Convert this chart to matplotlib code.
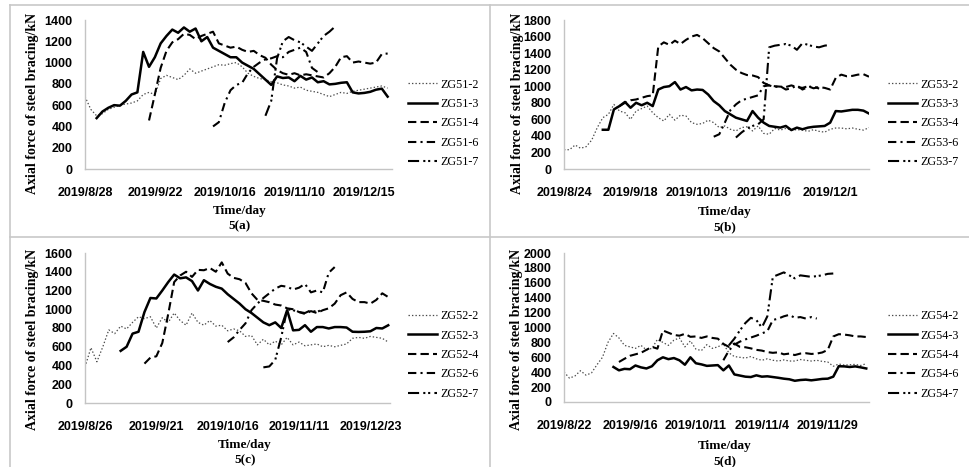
import numpy as np
import matplotlib
matplotlib.use('Agg')
import matplotlib.pyplot as plt
from matplotlib.lines import Line2D

plt.rcParams['lines.scale_dashes'] = False

# ---------------- data (category index, one value every 2 days) ----------------
dates_a = ['2019/8/28', '2019/9/22', '2019/10/16', '2019/11/10', '2019/12/15']
names_a = ['ZG51-2', 'ZG51-3', 'ZG51-4', 'ZG51-6', 'ZG51-7']
starts_a = [0, 4, 22, 44, 62]
zg51_2 = [680, 560, 500, 520, 560, 580, 600, 610, 620, 640, 700, 720, 700, 850, 880, 860, 840, 880,
          940, 900, 920, 940, 960, 980, 975, 990, 1000, 960, 900, 870, 850, 840, 820, 810, 790, 780,
          760, 770, 740, 730, 720, 700, 680, 700, 720, 710, 730, 740, 750, 760, 770, 780, 760]
zg51_3 = [478, 540, 575, 600, 595, 640, 700, 720, 1100, 960, 1050, 1180, 1250, 1310, 1280, 1330, 1290,
          1320, 1200, 1240, 1140, 1110, 1080, 1050, 1050, 1000, 970, 940, 890, 840, 790, 870, 855, 860,
          825, 875, 840, 860, 815, 825, 795, 800, 810, 815, 720, 710, 715, 725, 745, 755, 680]
zg51_4 = [456, 700, 950, 1110, 1190, 1220, 1270, 1260, 1220, 1250, 1270, 1290, 1180, 1160, 1140, 1150,
          1120, 1100, 1110, 1070, 1045, 980, 930, 900, 885, 900, 880, 890, 880, 870, 860, 900, 960,
          1050, 1060, 1000, 1010, 1000, 990, 1000, 1080, 1085]
zg51_6 = [400, 440, 620, 740, 790, 810, 900, 960, 1000, 1030, 1040, 1060, 1050, 1100, 1120, 1140,
          1100, 950, 910]
zg51_7 = [500, 640, 1040, 1200, 1240, 1210, 1190, 1150, 1110, 1180, 1250, 1290, 1340]

dates_b = ['2019/8/24', '2019/9/18', '2019/10/13', '2019/11/6', '2019/12/1']
names_b = ['ZG53-2', 'ZG53-3', 'ZG53-4', 'ZG53-6', 'ZG53-7']
starts_b = [0, 14, 20, 54, 62]
zg53_2 = [233, 233, 290, 250, 270, 350, 500, 620, 660, 780, 700, 680, 600, 700, 730, 760, 680, 620,
          580, 660, 590, 650, 640, 560, 540, 550, 590, 560, 500, 520, 480, 460, 500, 510, 460, 520,
          430, 420, 490, 470, 490, 470, 475, 470, 455, 475, 455, 445, 480, 495, 495, 485, 495, 480,
          470, 500]
zg53_3 = [474, 474, 720, 760, 810, 740, 800, 770, 800, 760, 960, 990, 1000, 1050, 960, 990, 950, 960,
          955, 900, 820, 770, 700, 660, 620, 600, 580, 700, 620, 560, 520, 510, 500, 520, 470, 500,
          480, 500, 510, 515, 520, 560, 700, 695, 705, 715, 715, 705, 670]
zg53_4 = [760, 800, 830, 840, 860, 880, 890, 1480, 1530, 1500, 1550, 1510, 1560, 1600, 1620, 1580,
          1520, 1460, 1420, 1340, 1260, 1200, 1160, 1135, 1130, 1110, 1040, 1010, 1000, 995, 990,
          1010, 990, 980, 1000, 975, 990, 980, 960, 1100, 1140, 1120, 1125, 1140, 1145, 1115]
zg53_6 = [390, 420, 560, 710, 780, 830, 850, 870, 890, 1000, 1010, 990, 1000, 960, 975, 1010, 960,
          990, 1000, 970]
zg53_7 = [380, 440, 490, 520, 540, 600, 1470, 1490, 1500, 1510, 1490, 1440, 1520, 1500, 1480, 1470,
          1490, 1500]

dates_c = ['2019/8/26', '2019/9/21', '2019/10/16', '2019/11/11', '2019/12/23']
names_c = ['ZG52-2', 'ZG52-3', 'ZG52-4', 'ZG52-6', 'ZG52-7']
starts_c = [0, 12, 20, 48, 60]
zg52_2 = [384, 590, 440, 600, 780, 740, 820, 790, 860, 920, 900, 920, 800, 910, 860, 960, 880, 830,
          960, 860, 830, 880, 820, 830, 770, 790, 770, 710, 720, 620, 680, 620, 660, 620, 700, 620,
          650, 610, 620, 630, 600, 615, 600, 615, 630, 690, 700, 690, 710, 700, 690, 650]
zg52_3 = [556, 600, 740, 760, 970, 1120, 1115, 1200, 1290, 1370, 1330, 1340, 1300, 1200, 1310, 1270,
          1240, 1220, 1160, 1110, 1060, 1000, 960, 910, 860, 830, 860, 800, 990, 775, 780, 830, 760,
          810, 810, 795, 810, 810, 805, 760, 758, 760, 765, 800, 795, 829]
zg52_4 = [420, 484, 498, 640, 950, 1290, 1360, 1400, 1345, 1420, 1416, 1440, 1400, 1500, 1380, 1335,
          1320, 1280, 1170, 1100, 1090, 1075, 1050, 1040, 1010, 1000, 970, 950, 980, 960, 990, 1010,
          1060, 1150, 1180, 1110, 1076, 1076, 1060, 1100, 1170, 1130]
zg52_6 = [650, 700, 780, 850, 990, 1060, 1120, 1170, 1220, 1250, 1240, 1210, 1230, 1270, 1180, 1200,
          1180, 1390, 1450]
zg52_7 = [380, 390, 460, 700, 1000, 990, 970, 960, 990, 970, 1000]

dates_d = ['2019/8/22', '2019/9/16', '2019/10/11', '2019/11/4', '2019/11/29']
names_d = ['ZG54-2', 'ZG54-3', 'ZG54-4', 'ZG54-6', 'ZG54-7']
starts_d = [0, 18, 20, 58, 60]
zg54_2 = [403, 320, 350, 420, 360, 390, 500, 600, 800, 920, 860, 760, 740, 720, 760, 700, 720, 840,
          800, 760, 830, 860, 740, 820, 710, 690, 770, 720, 740, 780, 660, 610, 600, 590, 610, 580,
          560, 580, 560, 550, 565, 550, 550, 570, 560, 550, 560, 545, 537, 480, 510, 495, 500, 505,
          490, 515]
zg54_3 = [470, 425, 445, 440, 490, 465, 450, 480, 560, 600, 575, 590, 560, 500, 600, 520, 505, 485,
          490, 495, 425, 490, 370, 355, 340, 335, 358, 340, 345, 335, 325, 313, 305, 285, 295, 300,
          291, 300, 310, 313, 340, 480, 478, 470, 478, 465, 450]
zg54_4 = [537, 580, 620, 640, 660, 700, 740, 716, 960, 930, 900, 890, 915, 875, 880, 860, 880, 860,
          850, 780, 740, 785, 740, 735, 720, 700, 690, 670, 660, 667, 640, 650, 630, 650, 655, 645,
          650, 665, 700, 880, 910, 905, 895, 880, 880, 872]
zg54_6 = [560, 690, 770, 810, 840, 865, 890, 920, 950, 1100, 1120, 1150, 1170, 1130, 1140, 1120, 1140,
          1120]
zg54_7 = [760, 850, 960, 1060, 1130, 1100, 1000, 1150, 1680, 1710, 1740, 1700, 1660, 1700, 1690, 1680,
          1690, 1700, 1720, 1725]

# ---------------- layout (pixels of the 970x467 picture) ----------------
W, H = 970, 467
fig = plt.figure(figsize=(W / 100, H / 100), dpi=100)


def box(l, t, r, b):
    return [l / W, 1 - b / H, (r - l) / W, (b - t) / H]


def fp(x, y):
    return x / W, 1 - y / H


styles = [
    dict(color='#4a4a4a', lw=0.9, ls=(0, (1, 1.5))),
    dict(color='black', lw=1.8, ls='-'),
    dict(color='black', lw=1.5, ls=(0, (6, 3))),
    dict(color='black', lw=1.5, ls=(0, (6, 3, 1.5, 3))),
    dict(color='black', lw=1.5, ls=(0, (8, 3, 1.5, 2, 1.5, 3))),
]

panels = [
    dict(rect=box(85, 20, 392, 169), dates=dates_a, names=names_a, starts=starts_a,
         series=[zg51_2, zg51_3, zg51_4, zg51_6, zg51_7], ymax=1400, xend=105.5,
         leg=(408, 123.5), ylab=(33, 103), tlab=(240, 211), sub=(240, 226), tag='5(a)'),
    dict(rect=box(564, 20, 869, 169), dates=dates_b, names=names_b, starts=starts_b,
         series=[zg53_2, zg53_3, zg53_4, zg53_6, zg53_7], ymax=1800, xend=110,
         leg=(888, 123.5), ylab=(518, 103), tlab=(725, 212), sub=(725, 227), tag='5(b)'),
    dict(rect=box(85, 253, 390, 403), dates=dates_c, names=names_c, starts=starts_c,
         series=[zg52_2, zg52_3, zg52_4, zg52_6, zg52_7], ymax=1600, xend=102.6,
         leg=(408, 355), ylab=(33, 339), tlab=(245, 445), sub=(245, 460), tag='5(c)'),
    dict(rect=box(564, 253, 869, 402), dates=dates_d, names=names_d, starts=starts_d,
         series=[zg54_2, zg54_3, zg54_4, zg54_6, zg54_7], ymax=2000, xend=111,
         leg=(888, 355), ylab=(517, 339), tlab=(725, 446), sub=(725, 461), tag='5(d)'),
]

tick_font = dict(family='Liberation Sans', weight='bold', size=9)
serif_bold = dict(family='Liberation Serif', weight='bold')

for p in panels:
    ax = fig.add_axes(p['rect'])
    handles = []
    for start, vals, st in zip(p['starts'], p['series'], styles):
        x = start + 2 * np.arange(len(vals))
        h, = ax.plot(x, vals, color=st['color'], lw=st['lw'], linestyle=st['ls'],
                     solid_joinstyle='round', dash_capstyle='butt')
        handles.append(h)
    ax.set_xlim(0, p['xend'])
    ax.set_ylim(0, p['ymax'])
    ax.set_yticks(np.arange(0, p['ymax'] + 1, 200))
    ax.set_xticks([0, 24, 48, 72, 96])
    ax.set_xticklabels(p['dates'])
    for s in ['top', 'right']:
        ax.spines[s].set_visible(False)
    for s in ['left', 'bottom']:
        ax.spines[s].set_color('#c4c4c4')
        ax.spines[s].set_linewidth(1.0)
    ax.tick_params(axis='both', length=0)
    ax.tick_params(axis='x', pad=13)
    ax.tick_params(axis='y', pad=9)
    for lab in ax.get_xticklabels() + ax.get_yticklabels():
        lab.set_fontfamily(tick_font['family'])
        lab.set_fontweight(tick_font['weight'])
        lab.set_fontsize(tick_font['size'])
    ax.legend(handles, p['names'], loc='center left', bbox_to_anchor=fp(*p['leg']),
              bbox_transform=fig.transFigure, frameon=False,
              prop=dict(family='Liberation Serif', size=8.7),
              handlelength=2.4, handletextpad=0.25, labelspacing=0.62,
              borderpad=0, borderaxespad=0)
    fig.text(*fp(*p['ylab']), 'Axial force of steel bracing/kN', rotation=90,
             ha='center', va='center', size=10, **serif_bold)
    fig.text(*fp(*p['tlab']), 'Time/day', ha='center', va='center', size=9.5, **serif_bold)
    fig.text(*fp(*p['sub']), p['tag'], ha='center', va='center', size=9.5, **serif_bold)

# light grey frame around the four panels
frame = '#c8c8c8'
for (x0, y0, x1, y1) in [(10, 5, 970, 5), (10, 5, 10, 467), (490, 5, 490, 467), (10, 237, 970, 237)]:
    a, b = fp(x0, y0)
    c, d = fp(x1, y1)
    fig.add_artist(Line2D([a, c], [b, d], color=frame, lw=1.2, transform=fig.transFigure))

fig.savefig('out.png', dpi=100)
